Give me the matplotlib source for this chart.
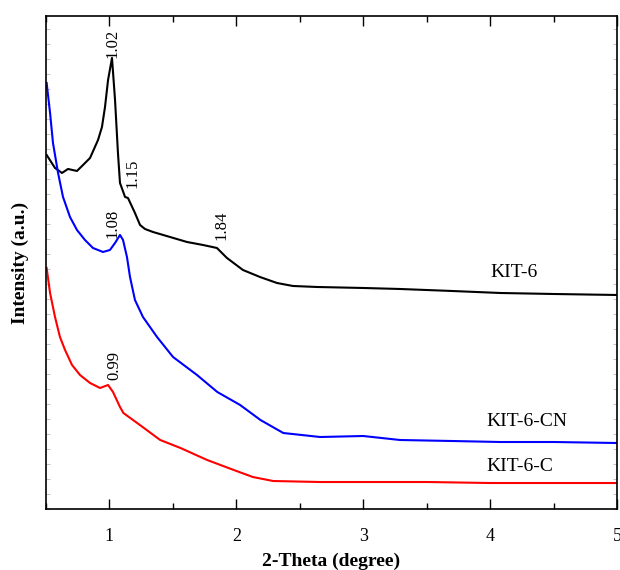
import matplotlib
matplotlib.use("Agg")
import matplotlib.pyplot as plt
from matplotlib.ticker import MultipleLocator, NullFormatter

plt.rcParams['font.family'] = ['Liberation Serif', 'DejaVu Serif']

# KIT-6 (black)
x_kit6 = [0.505, 0.571, 0.626, 0.673, 0.744, 0.792, 0.847, 0.910, 0.941, 0.965, 0.989, 1.020,
          1.044, 1.067, 1.083, 1.123, 1.146, 1.201, 1.241, 1.280, 1.343, 1.477, 1.611, 1.737,
          1.847, 1.926, 2.052, 2.186, 2.320, 2.446, 2.636, 3.00, 3.29, 3.70, 4.08, 4.50, 5.00]
y_kit6 = [354, 341, 336, 340, 338, 344, 351, 369, 382, 402, 429, 451,
          409, 356, 326, 312, 311, 296, 284, 280, 277, 272, 267, 264,
          261, 251, 239, 232, 226, 223, 222, 221, 220, 218, 216, 215, 214]

# KIT-6-CN (blue)
x_cn = [0.505, 0.532, 0.555, 0.595, 0.634, 0.689, 0.744, 0.807, 0.870, 0.949, 1.004, 1.044,
        1.083, 1.107, 1.138, 1.162, 1.201, 1.264, 1.375, 1.501, 1.690, 1.85, 2.03, 2.19,
        2.37, 2.66, 3.00, 3.29, 3.70, 4.08, 4.50, 5.00]
y_cn = [426, 396, 366, 336, 312, 292, 279, 269, 261, 257, 259, 266,
        274, 269, 252, 232, 209, 192, 172, 152, 134, 117, 104, 89,
        76, 72, 73, 69, 68, 67, 67, 66]

# KIT-6-C (red)
x_c = [0.505, 0.532, 0.571, 0.610, 0.650, 0.705, 0.768, 0.847, 0.926, 0.989, 1.028, 1.083,
       1.11, 1.24, 1.40, 1.56, 1.77, 1.98, 2.13, 2.29, 2.66, 3.00, 3.50, 4.00, 4.50, 5.00]
y_c = [241, 216, 192, 172, 159, 144, 134, 126, 121, 124, 117, 102,
       96, 84, 69, 61, 49, 39, 32, 28, 27, 27, 27, 26, 26, 26]

series = [("KIT-6", x_kit6, y_kit6, "black", 4.0, 236),
          ("KIT-6-CN", x_cn, y_cn, "blue", 3.97, 88),
          ("KIT-6-C", x_c, y_c, "red", 3.97, 43)]

peak_x = [1.02, 1.18, 1.88, 1.02, 1.04]
peak_y = [451, 321, 269, 271, 129]
peak_labels = ["1.02", "1.15", "1.84", "1.08", "0.99"]

fig = plt.figure(figsize=(6.2, 5.7), dpi=100)
ax = fig.add_axes([0.0742, 0.107, 0.921, 0.865])

for name, xs, ys, col, lx, ly in series:
    ax.plot(xs, ys, color=col, lw=1.5)
    ax.text(lx, ly, name, fontsize=14, ha='left', va='center')

for px, py, lab in zip(peak_x, peak_y, peak_labels):
    ax.text(px, py, lab, rotation=90, fontsize=12, ha='center', va='bottom')

ax.set_xlim(0.5, 5)
ax.set_ylim(0, 493)
ax.xaxis.set_major_locator(MultipleLocator(1))
ax.xaxis.set_minor_locator(MultipleLocator(0.5))
ax.yaxis.set_major_locator(MultipleLocator(15))
ax.yaxis.set_major_formatter(NullFormatter())
ax.tick_params(axis='x', which='major', direction='in', length=7, width=1, labelsize=13, pad=14)
ax.tick_params(axis='x', which='minor', direction='in', length=4, width=1)
ax.tick_params(axis='x', which='both', top=True, bottom=True)
ax.tick_params(axis='y', which='major', left=True, right=True, direction='out', length=3,
               width=0.6, color='#555555')
ax.tick_params(axis='y', which='major', left=True, direction='in', length=3, width=0.5, color='#aaaaaa')
for s in ax.spines.values():
    s.set_linewidth(1.2)

ax.set_xlabel("2-Theta (degree)", fontsize=14, fontweight='bold', labelpad=5)
ax.set_ylabel("Intensity (a.u.)", fontsize=14, fontweight='bold', labelpad=9)

fig.savefig("out.png", dpi=100)
